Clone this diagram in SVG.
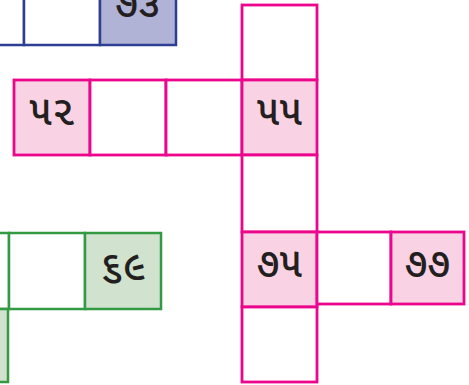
<svg xmlns="http://www.w3.org/2000/svg" width="469" height="385" viewBox="0 0 469 385">
<style>
.b{stroke:#2E3F93;stroke-width:2.5}
.p{stroke:#EC068D;stroke-width:2.8}
.g{stroke:#339A43;stroke-width:2.5}
.e{fill:#FFFFFF}
.bf{fill:#B0B2D6}
.pf{fill:#F9D3E4}
.gf{fill:#D1E2CE}
text{font-family:"Noto Sans Gujarati","Noto Serif Gujarati","Lohit Gujarati","Noto Sans",sans-serif;font-size:41px;font-weight:500;fill:#231F20;text-anchor:middle}
</style>
<rect width="469" height="385" fill="#FFFFFF"/>
<g id="blue-row">
<g id="b1"><rect class="b e" x="-52" y="-31" width="76" height="76"/></g>
<g id="b2"><rect class="b e" x="24" y="-31" width="76" height="76"/></g>
<g id="b3"><rect class="b bf" x="100" y="-31" width="76" height="76"/><text x="138" y="17">૭૩</text></g>
</g>
<g id="green-row">
<g id="g1"><rect class="g e" x="-67" y="233" width="76" height="76"/></g>
<g id="g2"><rect class="g e" x="9" y="233" width="76" height="76"/></g>
<g id="g3"><rect class="g gf" x="85" y="233" width="76" height="76"/><text x="123" y="280">૬૯</text></g>
<g id="g4"><rect class="g gf" x="-67" y="309" width="75" height="73"/></g>
</g>
<g id="pink-row">
<g id="p52"><rect class="p pf" x="14" y="80" width="76" height="75"/><text x="52" y="125">૫૨</text></g>
<g id="p53"><rect class="p e" x="90" y="80" width="76" height="75"/></g>
<g id="p54"><rect class="p e" x="166" y="80" width="76" height="75"/></g>
</g>
<g id="pink-col">
<g id="c1"><rect class="p e" x="242" y="5" width="75" height="75"/></g>
<g id="c55"><rect class="p pf" x="242" y="80" width="75" height="75"/><text x="279.5" y="125">૫૫</text></g>
<g id="c3"><rect class="p e" x="242" y="155" width="75" height="77"/></g>
<g id="c75"><rect class="p pf" x="242" y="232" width="75" height="75"/><text x="279.5" y="277">૭૫</text></g>
<g id="c5"><rect class="p e" x="242" y="307" width="75" height="75"/></g>
</g>
<g id="pink-row2">
<g id="r76"><rect class="p e" x="317" y="232" width="74" height="72"/></g>
<g id="r77"><rect class="p pf" x="391" y="232" width="73" height="72"/><text x="427.5" y="277">૭૭</text></g>
</g>
<g id="connectors"/>
</svg>
